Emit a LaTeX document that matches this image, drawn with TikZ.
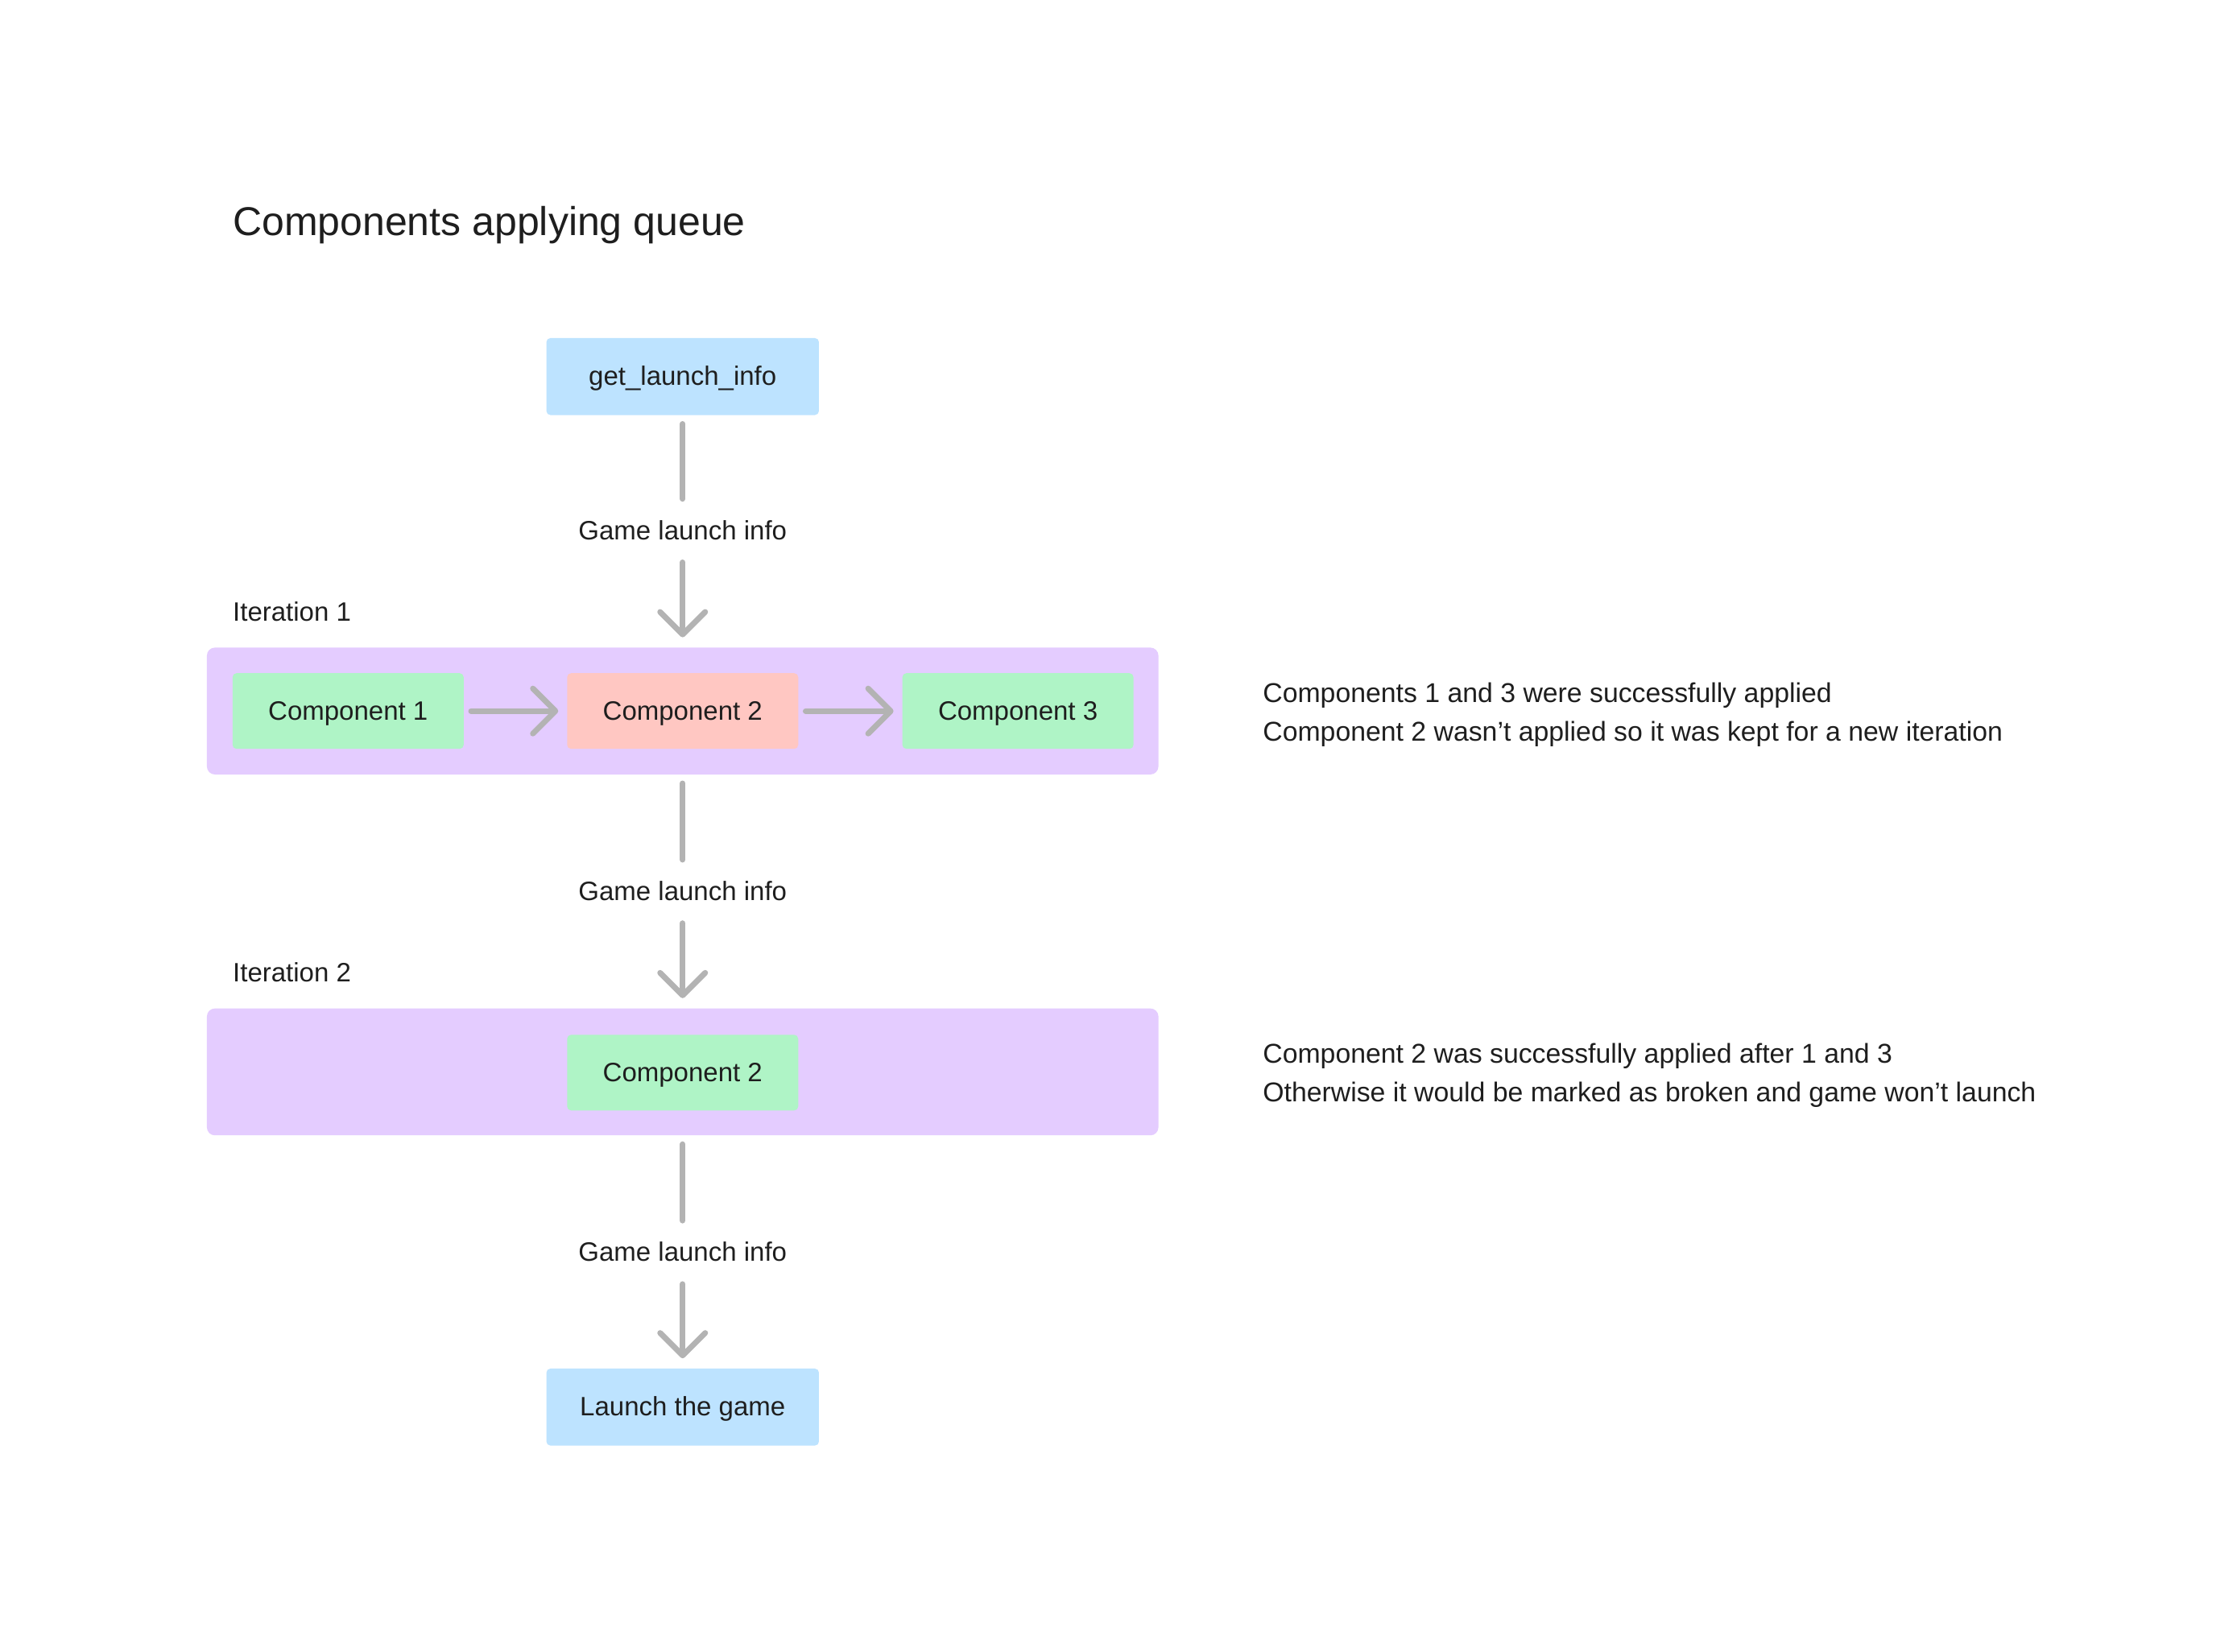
\documentclass[tikz,border=0pt]{standalone}
\usepackage{fontspec}
\setmainfont{Liberation Sans}
\usetikzlibrary{arrows.meta}
\definecolor{txt}{HTML}{1E1E1E}
\definecolor{lblue}{HTML}{BDE3FF}
\definecolor{lgreen}{HTML}{AFF4C6}
\definecolor{lred}{HTML}{FFC7C2}
\definecolor{lviolet}{HTML}{E4CCFF}
\definecolor{conngray}{HTML}{B3B3B3}
\tikzset{
  basefont/.style={font=\fontsize{16.5}{23.9}\selectfont, text=txt},
  notefont/.style={font=\fontsize{16.9}{23.9}\selectfont, text=txt},
  centred/.style={text height=11.8pt, text depth=0.6pt},
  bluebox/.style={basefont, centred, fill=lblue, rounded corners=2.5pt, minimum width=169.2pt, minimum height=47.8pt, inner sep=0pt},
  compbox/.style={basefont, centred, rounded corners=2.5pt, minimum width=143.5pt, minimum height=47pt, inner sep=0pt},
  okbox/.style={compbox, fill=lgreen},
  failbox/.style={compbox, fill=lred},
  iterbox/.style={fill=lviolet, rounded corners=5pt, minimum width=590.8pt, minimum height=78.8pt, inner sep=0pt},
  lbl/.style={basefont, centred, minimum height=39pt, inner sep=0pt},
  plain/.style={basefont, centred, inner sep=0pt, anchor=west},
  note/.style={notefont, centred, inner sep=0pt, anchor=west},
  conn/.style={draw=conngray, line width=3.5pt, line cap=round},
  arr/.style={conn, -{Straight Barb[length=14pt,width=28pt,round]}},
}
\begin{document}
\begin{tikzpicture}[x=0.8858pt, y=-0.8858pt]
\useasboundingbox (0,0) rectangle (1568,1158);
\fill[white] (0,0) rectangle (1568,1158);

\node[inner sep=0pt, anchor=west, text=txt, font=\fontsize{25}{30}\selectfont, text height=18pt, text depth=0pt] (title) at (163,155) {Components applying queue};

\node[bluebox] (gli) at (478.5,264) {get\_launch\_info};
\node[lbl] (l1) at (478.5,372) {Game launch info};

\node[plain] (it1lbl) at (163,429) {Iteration 1};
\node[iterbox] (it1) at (478.5,498.5) {};
\node[okbox] (c1) at (244,498.5) {Component 1};
\node[failbox] (c2) at (478.5,498.5) {Component 2};
\node[okbox] (c3) at (713.5,498.5) {Component 3};
\node[note] (n1a) at (885,486) {Components 1 and 3 were successfully applied};
\node[note] (n1b) at (885,513) {Component 2 wasn’t applied so it was kept for a new iteration};

\node[lbl] (l2) at (478.5,625) {Game launch info};

\node[plain] (it2lbl) at (163,682) {Iteration 2};
\node[iterbox] (it2) at (478.5,751.5) {};
\node[okbox] (c2b) at (478.5,752) {Component 2};
\node[note] (n2a) at (885,739) {Component 2 was successfully applied after 1 and 3};
\node[note] (n2b) at (885,766) {Otherwise it would be marked as broken and game won’t launch};

\node[lbl] (l3) at (478.5,878) {Game launch info};
\node[bluebox] (ltg) at (478.5,986.5) {Launch the game};

\draw[conn, shorten <=5.3pt] (gli) -- (l1);
\draw[arr, shorten >=6.2pt] (l1) -- (it1);
\draw[arr, shorten <=4.4pt, shorten >=5.3pt] (c1) -- (c2);
\draw[arr, shorten <=4.4pt, shorten >=5.3pt] (c2) -- (c3);
\draw[conn, shorten <=5.3pt] (it1) -- (l2);
\draw[arr, shorten >=6.2pt] (l2) -- (it2);
\draw[conn, shorten <=5.3pt] (it2) -- (l3);
\draw[arr, shorten >=6.2pt] (l3) -- (ltg);
\end{tikzpicture}
\end{document}
